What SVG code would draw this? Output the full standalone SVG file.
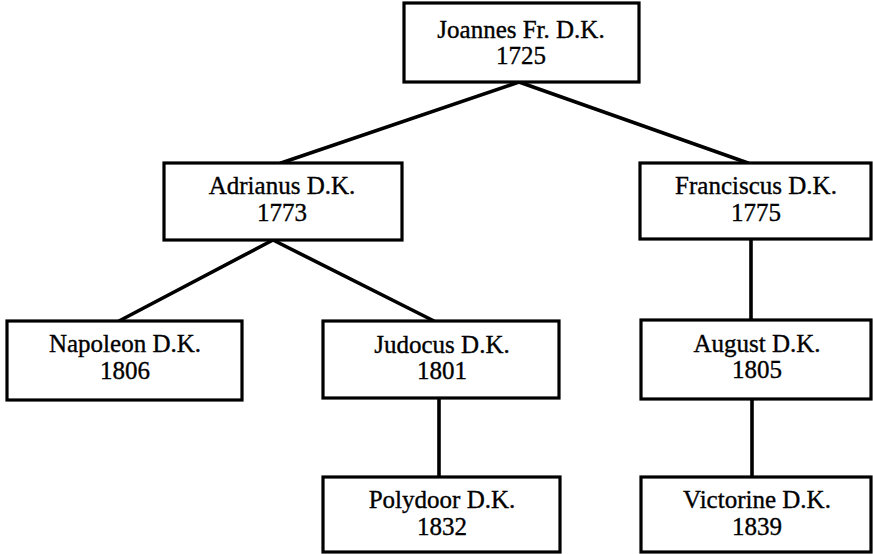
<svg xmlns="http://www.w3.org/2000/svg" width="873" height="554" viewBox="0 0 873 554">
<style>
.box{fill:#fff;stroke:#000;stroke-width:3.2}
.t{font-family:"Liberation Serif","Times New Roman",serif;font-size:25px;fill:#000;stroke:#000;stroke-width:0.35;text-anchor:middle}
.c line{stroke:#000;stroke-width:3.6;stroke-linecap:round}
</style>
<rect width="873" height="554" fill="#fff"/>
<g id="connectors" class="c">
<line x1="519" y1="82" x2="281" y2="163"/>
<line x1="519" y1="82" x2="748" y2="163"/>
<line x1="273" y1="240" x2="119" y2="321"/>
<line x1="273" y1="240" x2="434" y2="321"/>
<line x1="751" y1="239" x2="751" y2="320"/>
<line x1="439" y1="398" x2="439" y2="477"/>
<line x1="752" y1="399" x2="752" y2="477"/>
</g>
<g id="joannes"><rect class="box" x="404" y="3" width="235" height="79"/><text class="t" x="521" y="38">Joannes Fr. D.K.</text><text class="t" x="521" y="64">1725</text></g>
<g id="adrianus"><rect class="box" x="164" y="163" width="238" height="77"/><text class="t" x="282" y="194">Adrianus D.K.</text><text class="t" x="282" y="221">1773</text></g>
<g id="franciscus"><rect class="box" x="640" y="163" width="231" height="76"/><text class="t" x="756" y="194">Franciscus D.K.</text><text class="t" x="756" y="221">1775</text></g>
<g id="napoleon"><rect class="box" x="7" y="321" width="235" height="79"/><text class="t" x="125" y="352">Napoleon D.K.</text><text class="t" x="125" y="379">1806</text></g>
<g id="judocus"><rect class="box" x="323" y="321" width="236" height="77"/><text class="t" x="442" y="353">Judocus D.K.</text><text class="t" x="442" y="379">1801</text></g>
<g id="august"><rect class="box" x="641" y="320" width="230" height="79"/><text class="t" x="757" y="352">August D.K.</text><text class="t" x="757" y="378">1805</text></g>
<g id="polydoor"><rect class="box" x="323" y="477" width="237" height="75"/><text class="t" x="442" y="508">Polydoor D.K.</text><text class="t" x="442" y="535">1832</text></g>
<g id="victorine"><rect class="box" x="641" y="477" width="230" height="75"/><text class="t" x="757" y="508">Victorine D.K.</text><text class="t" x="757" y="535">1839</text></g>
</svg>
